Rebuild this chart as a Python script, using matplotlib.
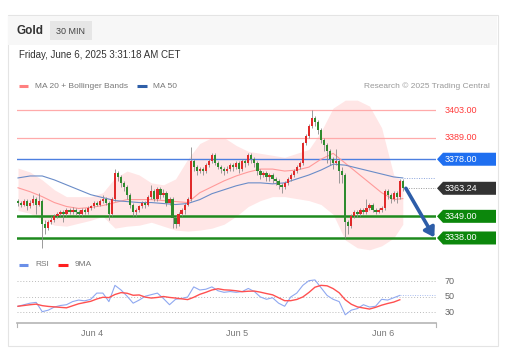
import numpy as np
import pandas as pd
import matplotlib.pyplot as plt
from matplotlib.patches import Rectangle, Polygon

plt.rcParams['font.family'] = ['Liberation Sans', 'DejaVu Sans']

W, H = 506, 355

# --- data (30 min candles, Jun 3 12:00 -> Jun 6 03:30) ---
opens = [3357, 3356, 3355, 3357, 3354, 3356, 3358, 3355, 3357, 3345,
         3343, 3346, 3347, 3349, 3350, 3351, 3350, 3352, 3351, 3352,
         3351, 3350, 3352, 3351, 3353, 3354, 3356, 3355, 3357, 3358,
         3356, 3350, 3358, 3371, 3369, 3366, 3364, 3360, 3355, 3351,
         3352, 3354, 3356, 3355, 3359, 3362, 3358, 3363, 3360, 3361,
         3356, 3358, 3348, 3345, 3350, 3352, 3355, 3358, 3377, 3374,
         3372, 3373, 3372, 3375, 3377, 3380, 3376, 3374, 3373, 3372,
         3373, 3375, 3374, 3376, 3373, 3377, 3376, 3380, 3378, 3376,
         3372, 3370, 3371, 3369, 3370, 3368, 3367, 3365, 3364, 3366,
         3368, 3370, 3372, 3374, 3376, 3386, 3390, 3395, 3399, 3397,
         3393, 3388, 3385, 3382, 3378, 3376, 3377, 3372, 3370, 3346,
         3344, 3349, 3351, 3350, 3352, 3351, 3353, 3355, 3352, 3351,
         3352, 3353, 3362, 3360, 3358, 3361, 3359, 3367]
closes = [3356, 3355, 3357, 3354, 3356, 3358, 3355, 3357, 3345, 3343,
          3346, 3347, 3349, 3350, 3351, 3350, 3352, 3351, 3352, 3351,
          3350, 3352, 3351, 3353, 3354, 3356, 3355, 3357, 3358, 3356,
          3350, 3358, 3371, 3369, 3366, 3364, 3360, 3355, 3351, 3352,
          3354, 3356, 3355, 3359, 3362, 3358, 3363, 3360, 3361, 3356,
          3358, 3348, 3345, 3350, 3352, 3355, 3358, 3377, 3374, 3372,
          3373, 3372, 3375, 3377, 3380, 3376, 3374, 3373, 3372, 3373,
          3375, 3374, 3376, 3373, 3377, 3376, 3380, 3378, 3376, 3372,
          3370, 3371, 3369, 3370, 3368, 3367, 3365, 3364, 3366, 3368,
          3370, 3372, 3374, 3376, 3386, 3390, 3395, 3399, 3397, 3393,
          3388, 3385, 3382, 3378, 3376, 3377, 3372, 3370, 3346, 3344,
          3349, 3351, 3350, 3352, 3351, 3353, 3355, 3352, 3351, 3352,
          3353, 3362, 3360, 3358, 3361, 3359, 3367, 3363.24]
highs = [3358, 3357, 3358, 3358, 3357.5, 3360, 3359, 3361, 3358, 3347,
         3347, 3349, 3350, 3351, 3352, 3352, 3353, 3353, 3353.5, 3353,
         3352, 3353, 3353, 3354, 3355, 3357, 3357, 3358, 3360, 3359,
         3357, 3359, 3373, 3372, 3370, 3367, 3365, 3361, 3356, 3353,
         3355, 3357, 3357, 3360, 3365, 3363, 3364, 3364, 3363, 3362,
         3359, 3359, 3349, 3351, 3353, 3356, 3359, 3384, 3378, 3375,
         3374, 3374, 3376, 3378, 3381, 3381, 3377, 3375, 3374, 3374.5,
         3376, 3376, 3377, 3377, 3378, 3378, 3381, 3381, 3379, 3377,
         3373, 3372, 3372, 3371, 3371, 3369, 3368, 3366, 3367, 3369,
         3371, 3373, 3375, 3377, 3387, 3391, 3396, 3403, 3400, 3398,
         3394, 3389, 3386, 3383, 3379, 3383, 3378, 3374, 3371, 3347,
         3350, 3352, 3352, 3353, 3353, 3358, 3356, 3356, 3353, 3353,
         3354, 3363, 3363, 3361, 3362, 3362, 3368, 3368]
lows = [3354.5, 3353.5, 3354, 3352, 3353, 3355, 3350, 3354, 3333, 3340,
        3342, 3345, 3346, 3348, 3349, 3346, 3349, 3350, 3350, 3349.5,
        3349, 3349, 3350, 3350, 3352, 3353, 3354, 3354, 3356, 3355,
        3347, 3349, 3357, 3367, 3364, 3362, 3358, 3353, 3349, 3349,
        3351, 3353, 3353, 3354, 3358, 3357, 3357, 3358, 3359, 3354,
        3355, 3343, 3343, 3344, 3349, 3350, 3354, 3357, 3372, 3370,
        3371, 3370, 3371, 3374, 3376, 3375, 3373, 3371, 3370, 3371,
        3372, 3372, 3373, 3371, 3372, 3374, 3375, 3376, 3374, 3370,
        3368, 3369, 3367, 3367, 3366, 3365, 3363, 3361, 3363, 3365,
        3367, 3369, 3371, 3373, 3375, 3385, 3389, 3394, 3395, 3391,
        3386, 3382, 3376, 3375, 3373, 3375, 3366, 3366, 3338, 3340,
        3343, 3348, 3348.5, 3349, 3350, 3350, 3352, 3351, 3350, 3350.5,
        3351, 3352, 3358, 3356, 3357, 3356, 3358, 3362]

# indicator values read every 4 candles
band_idx = list(range(0, 128, 4)) + [127]
bb_upper = [3373.5, 3371.5, 3367.5, 3362.5, 3359, 3359, 3359, 3361, 3368.5, 3372,
            3370, 3366, 3365, 3368, 3378, 3386, 3389, 3389, 3385, 3382,
            3381, 3380, 3379, 3381, 3383, 3392, 3404, 3408, 3408, 3405,
            3394, 3370, 3367]
bb_lower = [3352, 3350.5, 3347, 3344.5, 3344, 3345.5, 3347, 3349, 3343, 3344,
            3344.5, 3346, 3344, 3342, 3341.5, 3342, 3343, 3345, 3349, 3354,
            3357, 3359, 3359, 3358, 3357, 3355, 3350, 3337, 3333, 3332,
            3334, 3338, 3345]
ma20 = [3363.5, 3361.5, 3359, 3356, 3354, 3353, 3353.5, 3354.5, 3356, 3357.5,
        3357.5, 3357.5, 3357, 3356.5, 3356, 3361, 3364, 3367, 3369.5, 3371.5,
        3373, 3373, 3372, 3372.5, 3374, 3378, 3381, 3376, 3371, 3366,
        3361, 3357.5, 3358]
ma50 = [3368.5, 3369.5, 3369.5, 3367.5, 3365, 3362.5, 3360, 3358.5, 3357, 3356.5,
        3356, 3356, 3355.5, 3355, 3355.5, 3357.5, 3360.5, 3362.5, 3364.5, 3366,
        3366, 3365.5, 3366, 3368, 3370, 3372.5, 3375.5, 3375, 3373.5, 3372,
        3370.5, 3369, 3368.5]

# RSI read every 2 candles
rsi_idx = list(range(0, 128, 2))
rsi = [38, 40, 42, 43, 31, 33, 37, 39, 40, 44,
       46, 45, 47, 55, 55, 44, 65, 59, 51, 42,
       46, 51, 53, 55, 48, 40, 47, 48, 50, 63,
       59, 60, 63, 58, 56, 57, 56, 57, 61, 57,
       50, 47, 49, 42, 38, 50, 55, 65, 71, 72,
       62, 52, 47, 44, 27, 33, 35, 40, 37, 38,
       47, 46, 49, 52]
rsi_ma = pd.Series(rsi).rolling(5, min_periods=1).mean()

levels_res = [3403.00, 3389.00]
level_pivot = 3378.00
levels_sup = [3349.00, 3338.00]
last_price = 3363.24

day_ticks = [24.4, 72.4, 120.4]
day_labels = ["Jun 4", "Jun 5", "Jun 6"]


def pos(x0, y0, x1, y1):
    return [x0 / W, 1 - y1 / H, (x1 - x0) / W, (y1 - y0) / H]


fig = plt.figure(figsize=(W / 100, H / 100), dpi=100)
fig.patch.set_facecolor("white")

bg = fig.add_axes([0, 0, 1, 1])
bg.set_xlim(0, W)
bg.set_ylim(H, 0)
bg.axis("off")

# card + header
bg.add_patch(Rectangle((8, 15), 490, 331, fc="white", ec="#e4e4e4", lw=0.8))
bg.add_patch(Rectangle((8.5, 15.5), 489, 29, fc="#f7f7f7", ec="none"))
bg.text(17, 31, "Gold", fontsize=8.5, fontweight="bold", color="#333333", va="center")
bg.add_patch(Rectangle((50, 21), 42, 19, fc="#e6e6e6", ec="none"))
bg.text(71, 31, "30 MIN", fontsize=6.5, color="#444444", va="center", ha="center")
bg.text(19, 55, "Friday, June 6, 2025 3:31:18 AM CET", fontsize=7, color="#333333", va="center")

# legends
bg.plot([19, 28], [86, 86], color="#ff8080", lw=2.2, solid_capstyle="butt")
bg.text(35, 86, "MA 20 + Bollinger Bands", fontsize=6, color="#777777", va="center")
bg.plot([137, 147], [86, 86], color="#2f5fa8", lw=2.2, solid_capstyle="butt")
bg.text(153, 86, "MA 50", fontsize=6, color="#777777", va="center")
bg.text(490, 86, "Research \u00a9 2025 Trading Central", fontsize=6, color="#999999",
        va="center", ha="right")
bg.plot([19, 28], [265, 265], color="#6a8fe8", lw=2.2, solid_capstyle="butt")
bg.text(35, 265, "RSI", fontsize=6, color="#777777", va="center")
bg.plot([58, 68], [265, 265], color="#ff2020", lw=2.2, solid_capstyle="butt")
bg.text(75, 265, "9MA", fontsize=6, color="#777777", va="center")

# --- price panel ---
xlim = (-0.33, 137.95)
ax = fig.add_axes(pos(17, 98, 436, 250))
ax.set_xlim(*xlim)
ax.set_ylim(3331.9, 3409.1)
ax.axis("off")
ax.patch.set_alpha(0)

ax.fill_between(band_idx, bb_lower, bb_upper, color="#ffd2d2", alpha=0.55, lw=0, zorder=1)
ax.plot(band_idx, ma20, color="#ff9a9a", lw=0.8, zorder=2)
ax.plot(band_idx, ma50, color="#6a8cc8", lw=0.8, zorder=2)

for lv in levels_res:
    ax.axhline(lv, color="#ffaaaa", lw=0.9, zorder=1.5)
ax.axhline(level_pivot, color="#4d7fe0", lw=1.0, zorder=1.5)
for lv in levels_sup:
    ax.axhline(lv, color="#1e8a1e", lw=1.8, zorder=1.5)

idx = np.arange(len(closes))
o = np.array(opens)
c = np.array(closes)
up = c >= o
ax.vlines(idx, lows, highs, color="#8a8a8a", lw=0.6, zorder=3)
body_lo = np.minimum(o, c)
body_h = np.maximum(np.abs(c - o), 0.5)
ax.bar(idx[up], body_h[up], bottom=body_lo[up], width=0.75, color="#e02a2a", lw=0, zorder=4)
ax.bar(idx[~up], body_h[~up], bottom=body_lo[~up], width=0.75, color="#2e8b2e", lw=0, zorder=4)

# dotted extensions
ax.plot([idx[-1] + 0.5, xlim[1]], [ma50[-1], ma50[-1]], color="#8aa4dc", lw=0.7, ls=(0, (1, 1.5)))
ax.plot([idx[-1] + 1.2, xlim[1]], [last_price, last_price], color="#999999", lw=0.7, ls=(0, (1, 1.5)))

# forecast arrow
ax.annotate("", xy=(137.4, 3338.3), xytext=(idx[-1] + 1.0, last_price),
            arrowprops=dict(arrowstyle="-|>,head_width=0.35,head_length=0.55",
                            color="#2d5da8", lw=2.6, shrinkA=0, shrinkB=0), zorder=6)

# right labels
y_of = lambda p: 98 + (3409.1 - p) / (3409.1 - 3331.9) * 152
for lv in levels_res:
    bg.text(445, y_of(lv), f"{lv:.2f}", fontsize=6.5, color="#ff3b3b", va="center")


def tag(price, color):
    yc = y_of(price)
    bg.add_patch(Polygon([(437, yc), (443, yc - 6.5), (496, yc - 6.5), (496, yc + 6.5), (443, yc + 6.5)],
                         closed=True, fc=color, ec="none"))
    bg.text(445, yc, f"{price:.2f}", fontsize=6.5, color="white", va="center")


tag(level_pivot, "#1f6ff0")
tag(last_price, "#333333")
for lv in levels_sup:
    tag(lv, "#0c870c")

# --- RSI panel ---
rx = fig.add_axes(pos(17, 270, 436, 322))
rx.set_xlim(*xlim)
rx.set_ylim(17.7, 84.8)
rx.axis("off")
rx.patch.set_alpha(0)
for lv in [30, 50, 70]:
    rx.axhline(lv, color="#bbbbbb", lw=0.7, ls=(0, (1, 2)))
rx.plot(rsi_idx, rsi, color="#8fa8f0", lw=0.8)
rx.plot(rsi_idx, rsi_ma, color="#ff5050", lw=1.0)
rx.plot([rsi_idx[-1], xlim[1]], [rsi[-1], rsi[-1]], color="#a8bcf0", lw=0.7, ls=(0, (1, 1.5)))

r_y = lambda v: 270 + (84.8 - v) / (84.8 - 17.7) * 52
for lv in [70, 50, 30]:
    bg.text(445, r_y(lv), str(lv), fontsize=6.5, color="#666666", va="center")

# x axis
bg.plot([17, 436], [323, 323], color="#b5b5b5", lw=1.2)
bg.plot([17, 17], [323, 327], color="#b5b5b5", lw=0.8)
bg.plot([436, 436], [323, 327], color="#b5b5b5", lw=0.8)
for t, lab in zip(day_ticks, day_labels):
    xp = 17 + (t - xlim[0]) / (xlim[1] - xlim[0]) * 419
    bg.text(xp, 334, lab, fontsize=6.5, color="#777777", va="center", ha="center")

fig.savefig("out.png", dpi=100)
